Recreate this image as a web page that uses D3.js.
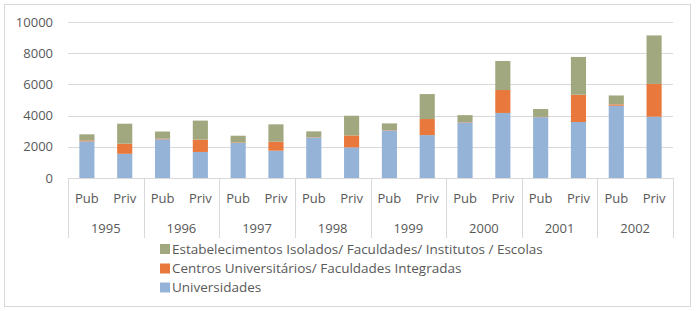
<!DOCTYPE html>
<html>
<head>
<meta charset="utf-8">
<script src="https://cdn.jsdelivr.net/npm/d3@7"></script>
<style>
  body { margin: 0; background: #fff; }
  text { font-family: "Open Sans", sans-serif; fill: #595959; }
</style>
</head>
<body>
<div class="chart"></div>
<script>
// data
var years = ["1995", "1996", "1997", "1998", "1999", "2000", "2001", "2002"];
var sectors = ["Pub", "Priv"];
var universidades = [2350, 1550, 2480, 1670, 2250, 1750, 2600, 1960, 3050, 2750, 3570, 4170, 3900, 3590, 4630, 3930];
var centros = [60, 650, 40, 790, 30, 580, 20, 770, 20, 1030, 20, 1470, 20, 1750, 90, 2100];
var estabelecimentos = [390, 1280, 460, 1220, 430, 1110, 370, 1260, 430, 1600, 440, 1860, 500, 2420, 570, 3110];
var yTicks = [0, 2000, 4000, 6000, 8000, 10000];
var seriesNames = [
    "Universidades",
    "Centros Universitários/ Faculdades Integradas",
    "Estabelecimentos Isolados/ Faculdades/ Institutos / Escolas"
];
var colors = ["#95b3d7", "#e8783c", "#a1a77f"];

var width = 697, height = 311;
var plotLeft = 68, plotRight = 673, plotTop = 22, plotBottom = 178;

//Build rows for the stack
var rows = [];
years.forEach(function (yr, i) {
    sectors.forEach(function (s, j) {
        var k = i * 2 + j;
        rows.push({ key: yr + "-" + s, year: yr, sector: s, s0: universidades[k], s1: centros[k], s2: estabelecimentos[k] });
    });
});

var svg = d3.select(".chart").append("svg")
    .attr("width", width)
    .attr("height", height);

//Outer border
svg.append("rect")
    .attr("x", 4.5).attr("y", 4.5)
    .attr("width", 686).attr("height", 302)
    .attr("fill", "none")
    .attr("stroke", "#d9d9d9");

var x = d3.scaleBand().domain(rows.map(d => d.key)).range([plotLeft, plotRight]).paddingInner(0.6).paddingOuter(0.3);
var xGroup = d3.scaleBand().domain(years).range([plotLeft, plotRight]);
var y = d3.scaleLinear().domain([0, 10000]).range([plotBottom, plotTop]);

//Gridlines
svg.append("g")
    .selectAll("line")
    .data(yTicks.filter(t => t > 0))
    .join("line")
    .attr("x1", plotLeft).attr("x2", plotRight)
    .attr("y1", d => Math.round(y(d)) + 0.5)
    .attr("y2", d => Math.round(y(d)) + 0.5)
    .attr("stroke", "#d9d9d9");

//Y axis labels
svg.append("g")
    .selectAll("text")
    .data(yTicks)
    .join("text")
    .attr("x", 53)
    .attr("y", d => y(d))
    .attr("dy", "0.35em")
    .attr("text-anchor", "end")
    .style("font-size", "13px")
    .text(d => d);

//Stacked bars
var stack = d3.stack().keys(["s0", "s1", "s2"]);
var layers = stack(rows);
svg.append("g")
    .selectAll("g")
    .data(layers)
    .join("g")
    .attr("fill", (d, i) => colors[i])
    .selectAll("rect")
    .data(d => d)
    .join("rect")
    .attr("x", d => x(d.data.key))
    .attr("width", x.bandwidth())
    .attr("y", d => y(d[1]))
    .attr("height", d => y(d[0]) - y(d[1]));

//Category axis
var axis = svg.append("g");
axis.append("line")
    .attr("x1", plotLeft).attr("x2", plotRight)
    .attr("y1", plotBottom + 0.5).attr("y2", plotBottom + 0.5)
    .attr("stroke", "#d9d9d9");
axis.selectAll("line.sep")
    .data(years.concat(["end"]))
    .join("line")
    .attr("class", "sep")
    .attr("x1", (d, i) => Math.round(plotLeft + i * xGroup.bandwidth()) + 0.5)
    .attr("x2", (d, i) => Math.round(plotLeft + i * xGroup.bandwidth()) + 0.5)
    .attr("y1", plotBottom)
    .attr("y2", 238)
    .attr("stroke", "#d9d9d9");
axis.selectAll("text.sector")
    .data(rows)
    .join("text")
    .attr("class", "sector")
    .attr("x", d => x(d.key) + x.bandwidth() / 2)
    .attr("y", 198)
    .attr("dy", "0.35em")
    .attr("text-anchor", "middle")
    .style("font-size", "13px")
    .text(d => d.sector);
axis.selectAll("text.year")
    .data(years)
    .join("text")
    .attr("class", "year")
    .attr("x", d => xGroup(d) + xGroup.bandwidth() / 2)
    .attr("y", 228)
    .attr("dy", "0.35em")
    .attr("text-anchor", "middle")
    .style("font-size", "13px")
    .text(d => d);

//Legend (top item is the last series)
var legendY = [287.5, 268.5, 249];
var legend = svg.append("g")
    .selectAll("g")
    .data(seriesNames)
    .join("g")
    .attr("transform", (d, i) => "translate(160," + legendY[i] + ")");
legend.append("rect")
    .attr("x", 0).attr("y", -5)
    .attr("width", 10).attr("height", 10)
    .attr("fill", (d, i) => colors[i]);
legend.append("text")
    .attr("x", 12)
    .attr("dy", "0.35em")
    .style("font-size", "13.5px")
    .text(d => d);
</script>
</body>
</html>
